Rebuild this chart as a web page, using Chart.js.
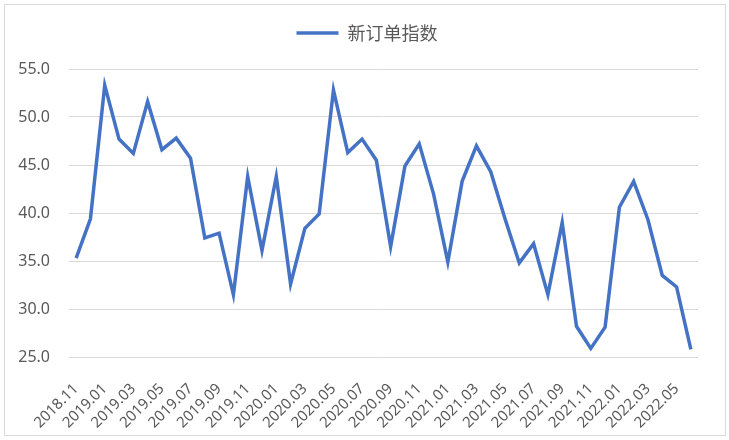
<!DOCTYPE html>
<html>
<head>
<meta charset="utf-8">
<script src="https://cdn.jsdelivr.net/npm/chart.js@4/dist/chart.umd.min.js"></script>
<style>
  html, body { margin: 0; padding: 0; background: #fff; }
  #wrap { position: relative; width: 729px; height: 440px; }
</style>
</head>
<body>
<div id="wrap"><canvas id="c"></canvas></div>
<script>
const months = [
  '2018.11','2018.12',
  '2019.01','2019.02','2019.03','2019.04','2019.05','2019.06','2019.07','2019.08','2019.09','2019.10','2019.11','2019.12',
  '2020.01','2020.02','2020.03','2020.04','2020.05','2020.06','2020.07','2020.08','2020.09','2020.10','2020.11','2020.12',
  '2021.01','2021.02','2021.03','2021.04','2021.05','2021.06','2021.07','2021.08','2021.09','2021.10','2021.11','2021.12',
  '2022.01','2022.02','2022.03','2022.04','2022.05','2022.06'
];
const newOrderIndex = [
  35.3, 39.4,
  53.3, 47.7, 46.2, 51.6, 46.6, 47.8, 45.7, 37.4, 37.9, 31.5, 43.8, 36.1,
  43.8, 32.6, 38.4, 39.9, 52.8, 46.3, 47.7, 45.5, 36.5, 44.9, 47.2, 42.0,
  34.9, 43.3, 47.0, 44.3, 39.4, 34.8, 36.8, 31.5, 39.0, 28.2, 25.9, 28.1,
  40.6, 43.3, 39.3, 33.5, 32.3, 25.8
];
const seriesName = '新订单指数';
const yMin = 25, yMax = 55, yStep = 5;

const frame = {
  id: 'frame',
  beforeDraw(chart) {
    const ctx = chart.ctx;
    ctx.save();
    ctx.fillStyle = '#ffffff';
    ctx.fillRect(0, 0, chart.width, chart.height);
    ctx.strokeStyle = '#d9d9d9';
    ctx.lineWidth = 1;
    ctx.strokeRect(4.5, 4.5, 721, 431);
    ctx.restore();
  }
};

const legendTweak = {
  id: 'legendTweak',
  beforeUpdate(chart) {
    const lg = chart.legend;
    if (lg && !lg._tweaked) {
      const origFit = lg.fit;
      lg.fit = function() {
        origFit.apply(this, arguments);
        this.height += 17;
      };
      const origDraw = lg.draw;
      lg.draw = function() {
        const ctx = this.ctx;
        ctx.save();
        ctx.translate(18, 0);
        origDraw.apply(this, arguments);
        ctx.restore();
      };
      lg._tweaked = true;
    }
  }
};

new Chart(document.getElementById('c'), {
  type: 'line',
  data: {
    labels: months,
    datasets: [{
      label: seriesName,
      data: newOrderIndex,
      borderColor: '#4472C4',
      backgroundColor: '#4472C4',
      borderWidth: 3.5,
      pointRadius: 0,
      pointHoverRadius: 0,
      tension: 0,
      fill: false,
      pointStyle: 'line'
    }]
  },
  options: {
    responsive: true,
    maintainAspectRatio: false,
    animation: false,
    devicePixelRatio: 1,
    layout: { padding: { left: 0, right: 31, top: 14, bottom: 0 } },
    plugins: {
      legend: {
        display: true,
        position: 'top',
        labels: {
          usePointStyle: true,
          pointStyleWidth: 42,
          color: '#595959',
          font: { family: "'Noto Sans CJK SC', sans-serif", size: 18 },
          padding: 10
        }
      },
      tooltip: { enabled: false }
    },
    scales: {
      x: {
        offset: true,
        grid: { display: false, drawTicks: false },
        border: { display: false },
        ticks: {
          autoSkip: false,
          maxRotation: 45,
          minRotation: 45,
          padding: 23,
          color: '#595959',
          font: { family: "'Noto Sans', sans-serif", size: 15 },
          callback: function(v, i) { return i % 2 === 0 ? months[i] : ''; }
        },
        afterFit(scale) { scale.height = 83; }
      },
      y: {
        min: yMin,
        max: yMax,
        grid: { color: '#d9d9d9', lineWidth: 1, drawTicks: false },
        border: { display: false },
        ticks: {
          stepSize: yStep,
          padding: 19,
          color: '#595959',
          font: { family: "'Noto Sans', sans-serif", size: 16 },
          callback: function(v) { return Number(v).toFixed(1); }
        },
        afterFit(scale) { scale.width = 69; }
      }
    }
  },
  plugins: [frame, legendTweak]
});
</script>
</body>
</html>
